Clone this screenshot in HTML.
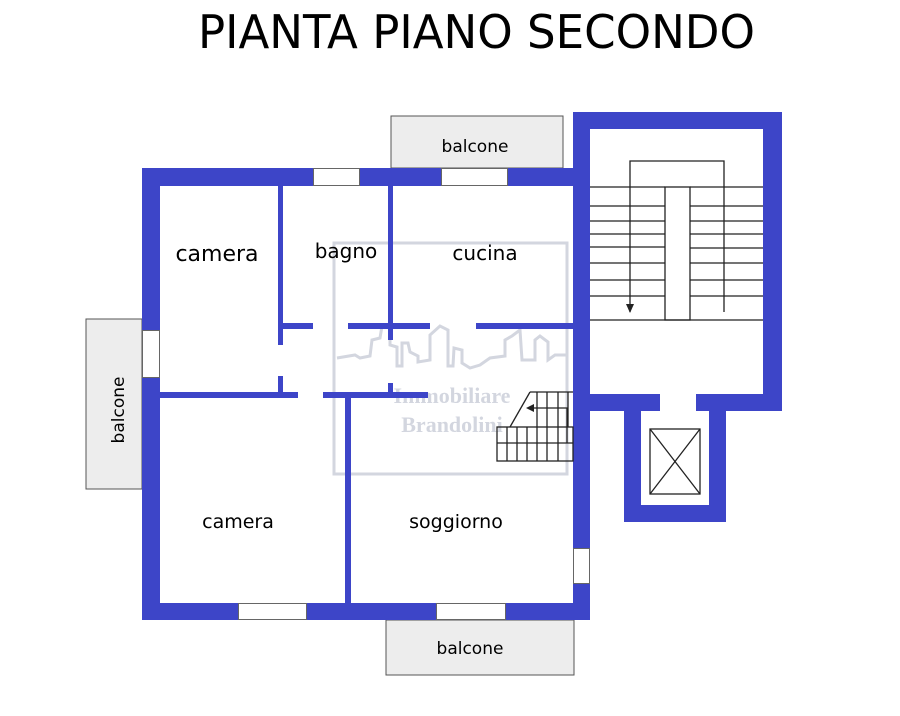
<!DOCTYPE html>
<html><head><meta charset="utf-8"><style>
html,body{margin:0;padding:0;background:#fff;}
svg{display:block;}
text{font-family:"DejaVu Sans","Liberation Sans",sans-serif;fill:#000;}
</style></head><body>
<svg width="900" height="716" viewBox="0 0 900 716" xmlns="http://www.w3.org/2000/svg">
<rect width="900" height="716" fill="#fff"/>
<text x="198" y="48" font-size="46" textLength="557" lengthAdjust="spacingAndGlyphs">PIANTA PIANO SECONDO</text>

<!-- balconies -->
<g fill="#ededed" stroke="#555" stroke-width="1">
<rect x="391" y="116" width="172" height="52"/>
<rect x="86" y="319" width="56" height="170"/>
<rect x="386" y="620" width="188" height="55"/>
</g>

<!-- watermark -->
<g stroke="#d3d6df" fill="none" stroke-width="3">
<rect x="334" y="243" width="233" height="231"/>
<polyline points="337,358 355,355 360,358 370,356 372,340 380,338 382,326 390,328 390,345 397,347 397,366 402,366 402,343 408,343 410,352 418,356 418,362 430,360 430,335 440,326 448,330 448,366 453,366 454,348 462,350 462,363 470,368 480,365 490,358 505,356 505,340 512,336 520,330 522,360 535,360 535,340 540,336 548,342 548,360 555,355 567,355"/>
</g>
<text x="452" y="403" font-weight="bold" font-size="22" text-anchor="middle" style="fill:#d3d6df;font-family:'Liberation Serif',serif">Immobiliare</text>
<text x="452" y="432" font-weight="bold" font-size="22" text-anchor="middle" style="fill:#d3d6df;font-family:'Liberation Serif',serif">Brandolini</text>

<!-- main walls -->
<g fill="#3d45c8">
<rect x="142" y="168" width="448" height="18"/>
<rect x="142" y="168" width="18" height="452"/>
<rect x="142" y="603" width="448" height="17"/>
<rect x="573" y="112" width="17" height="508"/>
<!-- stair tower -->
<rect x="573" y="112" width="209" height="17"/>
<rect x="763" y="112" width="19" height="299"/>
<rect x="573" y="394" width="87" height="17"/>
<rect x="696" y="394" width="86" height="17"/>
<rect x="624" y="394" width="17" height="128"/>
<rect x="709" y="394" width="17" height="128"/>
<rect x="624" y="505" width="102" height="17"/>
<!-- internal walls -->
<rect x="278" y="185" width="5" height="160"/>
<rect x="278" y="376" width="5" height="20"/>
<rect x="388" y="185" width="5" height="155"/>
<rect x="388" y="383" width="5" height="12"/>
<rect x="283" y="323" width="30" height="6"/>
<rect x="348" y="323" width="82" height="6"/>
<rect x="476" y="323" width="97" height="6"/>
<rect x="160" y="392" width="138" height="6"/>
<rect x="323" y="392" width="105" height="6"/>
<rect x="345" y="392" width="6" height="211"/>
</g>

<!-- windows -->
<g fill="#fff" stroke="#666" stroke-width="1">
<rect x="313.5" y="168.5" width="46" height="17"/>
<rect x="441.5" y="168.5" width="66" height="17"/>
<rect x="142.5" y="330.5" width="17" height="47"/>
<rect x="238.5" y="603.5" width="68" height="16"/>
<rect x="436.5" y="603.5" width="69" height="16"/>
<rect x="573.5" y="548.5" width="16" height="35"/>
</g>

<!-- main stairs -->
<g stroke="#222" stroke-width="1.3" fill="none">
<polyline points="630,312 630,161 724,161 724,312"/>
<line x1="590" y1="187" x2="665" y2="187"/><line x1="690" y1="187" x2="763" y2="187"/>
<line x1="590" y1="206" x2="665" y2="206"/><line x1="690" y1="206" x2="763" y2="206"/>
<line x1="590" y1="221" x2="665" y2="221"/><line x1="690" y1="221" x2="763" y2="221"/>
<line x1="590" y1="234" x2="665" y2="234"/><line x1="690" y1="234" x2="763" y2="234"/>
<line x1="590" y1="247" x2="665" y2="247"/><line x1="690" y1="248" x2="763" y2="248"/>
<line x1="590" y1="263" x2="665" y2="263"/><line x1="690" y1="280" x2="763" y2="280"/>
<line x1="590" y1="280" x2="665" y2="280"/><line x1="690" y1="263" x2="763" y2="263"/>
<line x1="590" y1="296" x2="665" y2="296"/><line x1="690" y1="296" x2="763" y2="296"/>
<line x1="590" y1="320" x2="763" y2="320"/>
<rect x="665" y="187" width="25" height="133"/>
<!-- elevator -->
<rect x="650" y="429" width="50" height="65"/>
<line x1="650" y1="429" x2="700" y2="494"/><line x1="700" y1="429" x2="650" y2="494"/>
<!-- small stair -->
<rect x="497" y="427" width="76" height="34"/>
<line x1="497" y1="443" x2="573" y2="443"/>
<line x1="507" y1="427" x2="507" y2="461"/><line x1="517" y1="427" x2="517" y2="461"/>
<line x1="527" y1="427" x2="527" y2="461"/><line x1="537" y1="392" x2="537" y2="461"/>
<line x1="547" y1="392" x2="547" y2="461"/><line x1="558" y1="392" x2="558" y2="461"/>
<line x1="568" y1="392" x2="568" y2="427"/>
<line x1="530" y1="392" x2="573" y2="392"/>
<line x1="510" y1="427" x2="530" y2="392"/>
<polyline points="532,408 567,408 567,443"/>
</g>
<polygon points="626,304 634,304 630,313" fill="#222"/>
<polygon points="526,408 534,404 534,412" fill="#222"/>

<!-- labels -->
<text x="217" y="261" font-size="22" text-anchor="middle">camera</text>
<text x="346" y="258" font-size="20" text-anchor="middle">bagno</text>
<text x="485" y="260" font-size="20" text-anchor="middle">cucina</text>
<text x="238" y="528" font-size="19" text-anchor="middle">camera</text>
<text x="456" y="528" font-size="19" text-anchor="middle">soggiorno</text>
<text x="475" y="152" font-size="17" text-anchor="middle">balcone</text>
<text x="470" y="654" font-size="17" text-anchor="middle">balcone</text>
<text x="0" y="0" font-size="17" text-anchor="middle" transform="translate(124,410) rotate(-90)">balcone</text>
</svg>
</body></html>
